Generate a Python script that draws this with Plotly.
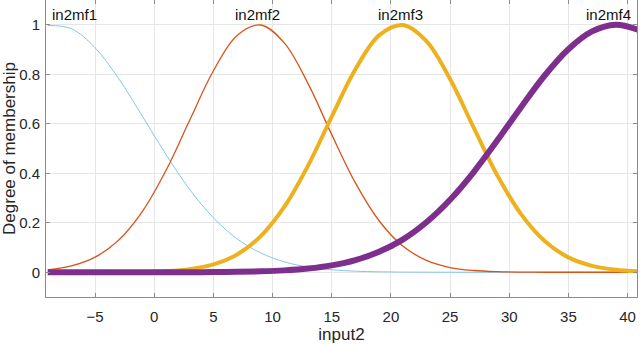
import plotly.graph_objects as go

# membership values
x = [-9, -7, -5, -3, -1, 1, 3, 5, 7, 9, 11, 13, 15, 17, 19, 21, 23, 25,
     27, 29, 31, 33, 35, 37, 39, 41]

in2mf1 = [0.997, 0.984, 0.907, 0.782, 0.630, 0.475, 0.334, 0.220, 0.135, 0.078,
          0.042, 0.021, 0.0099, 0.0043, 0.0018, 0.0007, 0.0003, 0.0001, 0, 0,
          0, 0, 0, 0, 0, 0]
in2mf2 = [0.0094, 0.0254, 0.061, 0.130, 0.246, 0.412, 0.615, 0.814, 0.957, 0.999,
          0.926, 0.762, 0.556, 0.361, 0.208, 0.106, 0.048, 0.019, 0.0070, 0.0022,
          0.0006, 0.0001, 0, 0, 0, 0]
in2mf3 = [0, 0, 0.0001, 0.0004, 0.0014, 0.0044, 0.0124, 0.0315, 0.0716, 0.146,
          0.265, 0.431, 0.629, 0.820, 0.957, 0.999, 0.934, 0.781, 0.584, 0.391,
          0.235, 0.126, 0.060, 0.026, 0.0099, 0.0034]
in2mf4 = [0, 0, 0, 0, 0, 0.0001, 0.0003, 0.0008, 0.0017, 0.0037,
          0.0076, 0.0149, 0.0277, 0.049, 0.083, 0.132, 0.202, 0.293, 0.405, 0.533,
          0.667, 0.795, 0.901, 0.973, 1.000, 0.978]

names = ["in2mf1", "in2mf2", "in2mf3", "in2mf4"]
label_x = [-6.7, 8.72, 20.78, 38.4]

series = [in2mf1, in2mf2, in2mf3, in2mf4]
colors = ["#86c5ec", "#D95319", "#EDB120", "#7E2F8E"]
widths = [1, 1.3, 4, 6]

fig = go.Figure()
for ys, c, w in zip(series, colors, widths):
    fig.add_trace(go.Scatter(x=x, y=ys, mode="lines",
                             line=dict(color=c, width=w, shape="spline"),
                             hoverinfo="skip"))

for name, lx in zip(names, label_x):
    fig.add_annotation(x=lx, y=1.0, text=name, showarrow=False,
                       yanchor="bottom", xanchor="center",
                       font=dict(size=15, color="#111111"))

axis_style = dict(
    showline=True, linecolor="#8c8c8c", linewidth=1, mirror="ticks",
    ticks="inside", ticklen=4, tickcolor="#8c8c8c",
    showgrid=True, gridcolor="#e6e6e6", gridwidth=1, zeroline=False,
    tickfont=dict(size=15, color="#262626"), automargin=False,
)

fig.update_xaxes(range=[-9.15, 40.8], tickvals=[-5, 0, 5, 10, 15, 20, 25, 30, 35, 40],
                 ticklabelstandoff=6,
                 title=dict(text="input2", font=dict(size=17, color="#262626"), standoff=4),
                 **axis_style)
fig.update_yaxes(range=[-0.1, 1.1], tickvals=[0, 0.2, 0.4, 0.6, 0.8, 1],
                 ticktext=["0", "0.2", "0.4", "0.6", "0.8", "1"],
                 ticklabelstandoff=2,
                 title=dict(text="Degree of membership", font=dict(size=17, color="#262626"),
                            standoff=2),
                 **axis_style)

fig.update_layout(
    width=640, height=345,
    margin=dict(l=46, r=3, t=0, b=48),
    paper_bgcolor="white", plot_bgcolor="white",
    font=dict(family="Liberation Sans, Arial, sans-serif"),
    showlegend=False,
)

# drop the browser's default page margin so the figure sits at the window corner
fig.write_html("out.html", config={"displayModeBar": False},
               post_script="document.body.style.margin='0px';")
